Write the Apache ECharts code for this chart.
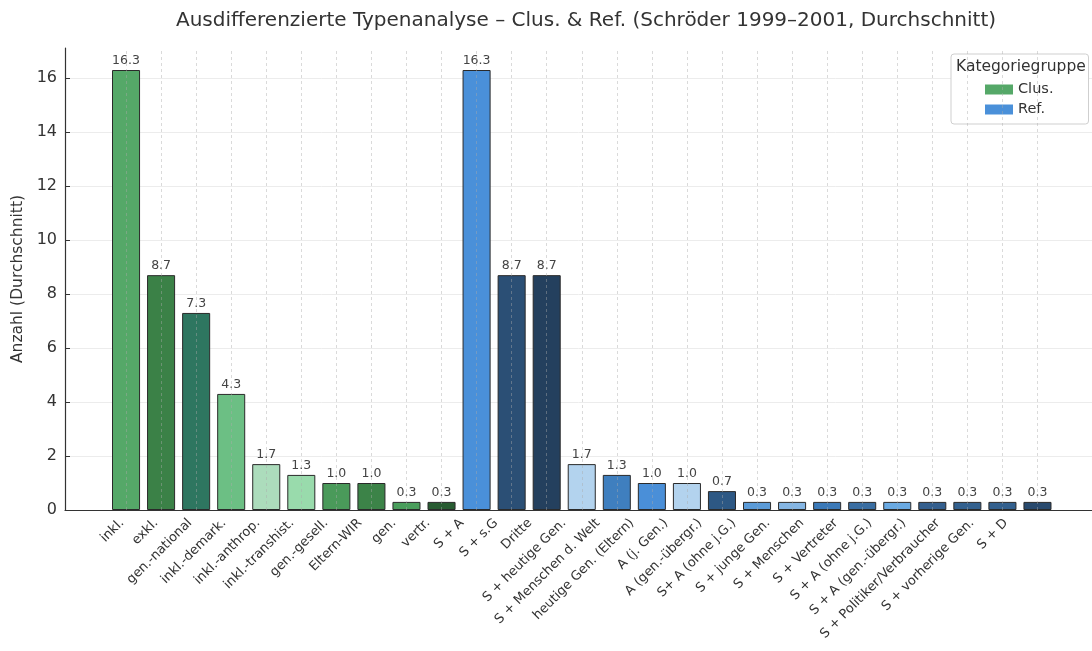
<!DOCTYPE html>
<html>
<head>
<meta charset="utf-8">
<script src="https://cdn.jsdelivr.net/npm/echarts@6/dist/echarts.min.js"></script>
<style>
html,body{margin:0;padding:0;background:#fff;}
#chart{width:1092px;height:651px;}
</style>
</head>
<body>
<div id="chart"></div>
<script>
// ---- data ----
const clusCategories = ['inkl.', 'exkl.', 'gen.-national', 'inkl.-demark.', 'inkl.-anthrop.', 'inkl.-transhist.', 'gen.-gesell.', 'Eltern-WIR', 'gen.', 'vertr.'];
const clusValues = [16.3, 8.7, 7.3, 4.3, 1.7, 1.3, 1.0, 1.0, 0.3, 0.3];
const refCategories = ['S + A', 'S + s.G', 'Dritte', 'S + heutige Gen.', 'S + Menschen d. Welt', 'heutige Gen. (Eltern)', 'A (j. Gen.)', 'A (gen.-übergr.)', 'S+ A (ohne j.G.)', 'S + junge Gen.', 'S + Menschen', 'S + Vertreter', 'S + A (ohne j.G.)', 'S + A (gen.-übergr.)', 'S + Politiker/Verbraucher', 'S + vorherige Gen.', 'S + D'];
const refValues = [16.3, 8.7, 8.7, 1.7, 1.3, 1.0, 1.0, 0.7, 0.3, 0.3, 0.3, 0.3, 0.3, 0.3, 0.3, 0.3, 0.3];
const yTicks = [0, 2, 4, 6, 8, 10, 12, 14, 16];

// ---- styles ----
const clusColors = ['#55a868', '#3b8147', '#2e7660', '#6cbf84', '#acdcbc', '#99dbac', '#4a9a5a', '#3c8348', '#4a9e5c', '#285c32'];
const refColors = ['#4a90d9', '#2b4f75', '#24405e', '#b3d3ee', '#3f7fbf', '#4a8fd8', '#b3d3ee', '#2d5884', '#5b9bd8', '#85b6e4', '#3b79b8', '#3a6ea2', '#6aaae3', '#345f8e', '#33618f', '#33608e', '#294a6e'];

const categories = clusCategories.concat(refCategories);
const clusData = categories.map((c, i) => i < clusValues.length
  ? { value: clusValues[i], itemStyle: { color: clusColors[i] } } : '-');
const refData = categories.map((c, i) => i >= clusValues.length
  ? { value: refValues[i - clusValues.length], itemStyle: { color: refColors[i - clusValues.length] } } : '-');

const yMax = Math.max(...clusValues, ...refValues) * 1.05;
const FONT = 'DejaVu Sans';

const labelCfg = {
  show: true, position: 'top', distance: 3,
  fontFamily: FONT, fontSize: 12.5, color: '#444',
  formatter: p => Number(p.value).toFixed(1)
};
const barItem = { borderColor: '#2a2a2a', borderWidth: 1 };

const chart = echarts.init(document.getElementById('chart'), null, { renderer: 'canvas' });
chart.setOption({
  animation: false,
  backgroundColor: '#fff',
  textStyle: { fontFamily: FONT },
  title: {
    text: 'Ausdifferenzierte Typenanalyse – Clus. & Ref. (Schröder 1999–2001, Durchschnitt)',
    left: 581, textAlign: 'center', top: 6,
    textStyle: { fontFamily: FONT, fontSize: 20, fontWeight: 'normal', color: '#333' }
  },
  legend: {
    data: ['Clus.', 'Ref.'],
    orient: 'vertical',
    left: 951, top: 54,
    padding: [28, 35, 7, 34],
    itemGap: 5,
    itemWidth: 28, itemHeight: 10,
    borderColor: '#cfcfcf', borderWidth: 1, borderRadius: 3,
    backgroundColor: '#fff',
    itemStyle: { borderWidth: 0 },
    textStyle: { fontFamily: FONT, fontSize: 14.5, color: '#333' },
    icon: 'rect'
  },
  graphic: [{
    type: 'text', left: 956, top: 59, z: 100,
    style: { text: 'Kategoriegruppe', font: '15.5px "DejaVu Sans"', fill: '#333' }
  }],
  grid: [
    { left: 65, right: 0, top: 48, bottom: 141 },
    { left: 108.5, right: 37, top: 48, bottom: 141 },
    { left: 105, right: 69, top: 48, bottom: 141 }
  ],
  xAxis: [
    { type: 'value', gridIndex: 0, min: 0, max: 1,
      axisLine: { show: true, onZero: false, lineStyle: { color: '#333', width: 1.2 } },
      axisTick: { show: false }, axisLabel: { show: false }, splitLine: { show: false } },
    { type: 'category', gridIndex: 1, data: categories,
      axisLine: { show: false },
      axisTick: { show: true, inside: true, alignWithLabel: true, length: 4, lineStyle: { color: '#333' } },
      axisLabel: { show: false },
      splitLine: { show: false } },
    { type: 'category', gridIndex: 2, data: categories,
      axisLine: { show: false }, axisTick: { show: false },
      axisLabel: { interval: 0, rotate: 45, margin: 11, fontFamily: FONT, fontSize: 13, color: '#333' },
      splitLine: { show: false } }
  ],
  yAxis: [
    { type: 'value', gridIndex: 0, min: 0, max: yMax, interval: 2,
      name: 'Anzahl (Durchschnitt)', nameLocation: 'middle', nameGap: 36,
      nameTextStyle: { fontFamily: FONT, fontSize: 15.5, color: '#333' },
      axisLine: { show: true, lineStyle: { color: '#333', width: 1.2 } },
      axisTick: { show: true, inside: true, length: 5, lineStyle: { color: '#333' } },
      axisLabel: { showMaxLabel: false, margin: 8, fontFamily: FONT, fontSize: 16, color: '#333',
        formatter: v => yTicks.includes(v) ? String(v) : '' },
      splitLine: { show: true, showMaxLine: false, lineStyle: { color: '#ececec', width: 1 } } },
    { type: 'value', gridIndex: 1, min: 0, max: yMax, interval: 2,
      axisLine: { show: false }, axisTick: { show: false }, axisLabel: { show: false }, splitLine: { show: false } },
    { type: 'value', gridIndex: 2, min: 0, max: yMax, interval: 2,
      axisLine: { show: false }, axisTick: { show: false }, axisLabel: { show: false }, splitLine: { show: false } }
  ],
  series: [
    { name: 'Clus.', type: 'bar', xAxisIndex: 1, yAxisIndex: 1,
      barWidth: '80%', barGap: '-100%',
      itemStyle: Object.assign({ color: '#55a868' }, barItem),
      label: labelCfg, data: clusData,
      markLine: {
        silent: true, symbol: 'none', label: { show: false },
        lineStyle: { type: [3, 3], color: 'rgba(170,170,170,0.55)', width: 0.8 },
        data: categories.map(c => ({ xAxis: c }))
      } },
    { name: 'Ref.', type: 'bar', xAxisIndex: 1, yAxisIndex: 1,
      barWidth: '80%', barGap: '-100%',
      itemStyle: Object.assign({ color: '#4a90d9' }, barItem),
      label: labelCfg, data: refData }
  ]
});
</script>
</body>
</html>
